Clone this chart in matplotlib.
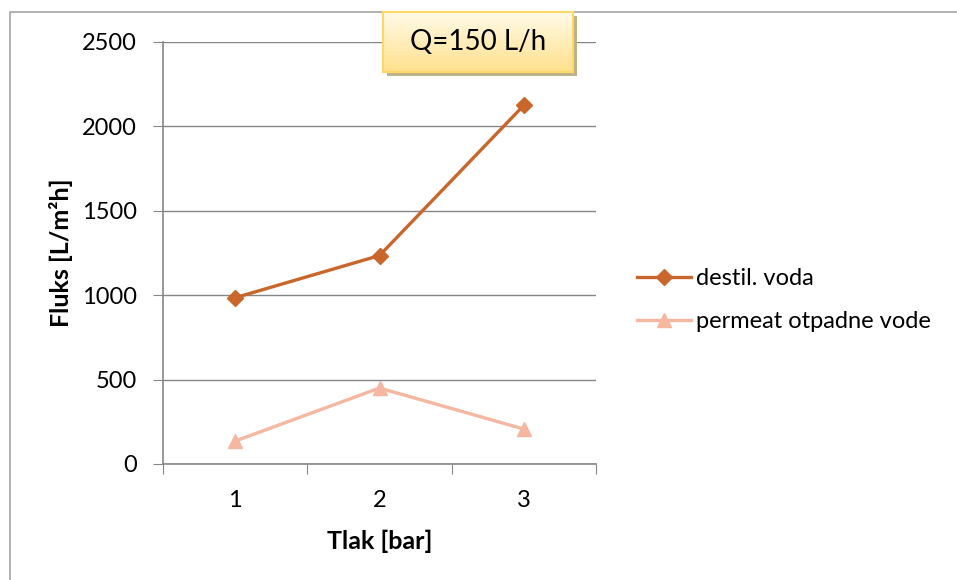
import matplotlib.pyplot as plt
import numpy as np
from matplotlib.patches import Rectangle

tlak = [1, 2, 3]
destil_voda = [985, 1235, 2125]
permeat = [136, 450, 207]
y_ticks = [0, 500, 1000, 1500, 2000, 2500]

plt.rcParams['font.family'] = ['Lato', 'DejaVu Sans']

W, H = 957, 580
fig = plt.figure(figsize=(W / 100, H / 100), dpi=100)

# outer chart border (only top and left edges are inside the image)
fig.patches.append(Rectangle((9.5 / W, -0.1), 1.2, 1.1 - 12 / H, transform=fig.transFigure,
                             fill=False, edgecolor='#a6a6a6', linewidth=1.2))

ax = fig.add_axes([163 / W, 1 - 464 / H, 433 / W, 422 / H])
ax.plot(tlak, destil_voda, color='#c8662c', linewidth=2.4, marker='D', markersize=8,
        label='destil. voda')
ax.plot(tlak, permeat, color='#f5b7a0', linewidth=2.4, marker='^', markersize=10,
        label='permeat otpadne vode')

ax.set_xlim(0.5, 3.5)
ax.set_ylim(0, 2500)
ax.set_yticks(y_ticks)
ax.set_xticks([0.5, 1.5, 2.5, 3.5])
ax.set_xticklabels([])
ax.set_xticks(tlak, minor=True)
ax.set_xticklabels([str(t) for t in tlak], minor=True)
ax.tick_params(axis='x', which='major', length=7, color='#868686', direction='out')
ax.tick_params(axis='x', which='minor', length=0, pad=19, labelsize=17)
ax.tick_params(axis='y', length=7, color='#868686', labelsize=17, pad=12)
ax.grid(axis='y', color='#868686', linewidth=1)
ax.set_axisbelow(True)
for side in ['top', 'right']:
    ax.spines[side].set_visible(False)
for side in ['left', 'bottom']:
    ax.spines[side].set_color('#868686')
    ax.spines[side].set_linewidth(1.2)

ax.set_xlabel('Tlak [bar]', fontsize=18, fontweight='bold', labelpad=13)
ax.set_ylabel('Fluks [L/m²h]', fontsize=18, fontweight='bold', va='center')
ax.yaxis.set_label_coords(-0.2356, 0.5)

fig.legend(loc='center left', bbox_to_anchor=(637 / W, 1 - 300 / H), frameon=False,
           fontsize=17, handlelength=2.3, handletextpad=0.2, labelspacing=0.95,
           borderpad=0, borderaxespad=0)

# title box with shadow and gradient
bx, by, bw, bh = 383 / W, 1 - 72 / H, 190 / W, 60 / H
fig.patches.append(Rectangle((bx + 4 / W, by - 4 / H), bw, bh, transform=fig.transFigure,
                             facecolor='#bdb38a', edgecolor='none', zorder=5))
bax = fig.add_axes([bx, by, bw, bh], zorder=6)
grad = np.linspace(0, 1, 100).reshape(-1, 1)
c_top = np.array([255, 250, 232]) / 255
c_bot = np.array([255, 224, 140]) / 255
img = c_top + (c_bot - c_top) * grad[:, :, None]
bax.imshow(img, aspect='auto', extent=[0, 1, 0, 1])
bax.set_xticks([])
bax.set_yticks([])
for s in bax.spines.values():
    s.set_color('#ffd966')
    s.set_linewidth(1.5)
bax.text(0.5, 0.5, 'Q=150 L/h', ha='center', va='center', fontsize=20,
         transform=bax.transAxes)

fig.savefig('out.png', dpi=100)
